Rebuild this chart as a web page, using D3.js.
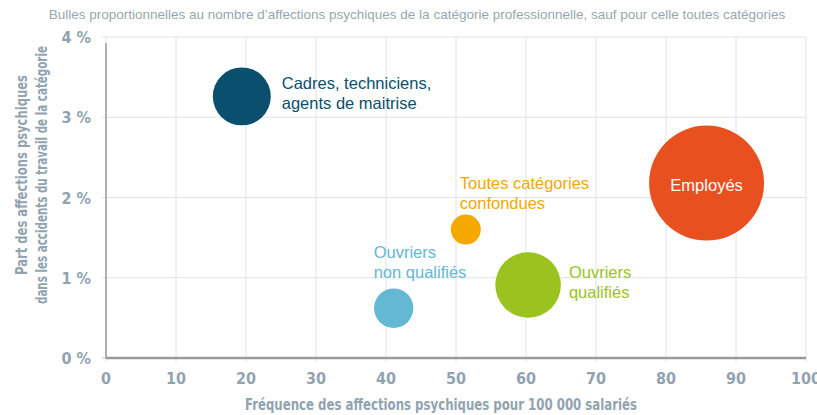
<!DOCTYPE html>
<meta charset="utf-8">
<script src="https://d3js.org/d3.v7.min.js"></script>
<style>
  body { margin: 0; background: #fff; }
  .tick-lab { font-family: "Liberation Sans Narrow", "DejaVu Sans Condensed", "Roboto", sans-serif; font-weight: bold; fill: #91a3af; }
</style>
<div id="my_dataviz"></div>
<script>

// data
var categories = ["Cadres, techniciens, agents de maitrise", "Toutes catégories confondues", "Ouvriers non qualifiés", "Ouvriers qualifiés", "Employés"]
var frequence = [19.4, 51.4, 41.1, 60.3, 85.8]          // pour 100 000 salariés
var part = [3.26, 1.60, 0.62, 0.91, 2.18]               // % des accidents du travail
var nombre = [2540, null, 1170, 3250, 10000]            // taille relative des bulles (aire)
var colors = ["#0a4f6e", "#f5a800", "#64b8d3", "#9bc31f", "#e9501f"]
var labelLines = [["Cadres, techniciens,", "agents de maitrise"], ["Toutes catégories", "confondues"], ["Ouvriers", "non qualifiés"], ["Ouvriers", "qualifiés"], ["Employés"]]
var xTicks = [0, 10, 20, 30, 40, 50, 60, 70, 80, 90, 100]
var yTicks = [0, 1, 2, 3, 4]

var margin = {top: 37, right: 11, bottom: 57, left: 106},
    W = 817, H = 415,
    width = W - margin.left - margin.right,
    height = H - margin.top - margin.bottom

var svg = d3.select("#my_dataviz")
  .append("svg")
    .attr("width", W)
    .attr("height", H)

var g = svg.append("g")
    .attr("transform", "translate(" + margin.left + "," + margin.top + ")")

var x = d3.scaleLinear().domain([0, 100]).range([0, width])
var y = d3.scaleLinear().domain([0, 4]).range([height, 0])
var r = d3.scaleSqrt().domain([0, d3.max(nombre)]).range([0, 57.5])

// grid
g.selectAll("vgrid").data(xTicks).enter().append("line")
  .attr("x1", d => x(d)).attr("x2", d => x(d))
  .attr("y1", 0).attr("y2", height + 4)
  .attr("stroke", "#e2e2e2").attr("stroke-width", 1)
g.selectAll("hgrid").data(yTicks).enter().append("line")
  .attr("x1", -4).attr("x2", width)
  .attr("y1", d => y(d)).attr("y2", d => y(d))
  .attr("stroke", d => d == 0 ? "#bbb" : "#e2e2e2").attr("stroke-width", 1)

// axis lines
g.append("line").attr("x1", 0).attr("x2", 0).attr("y1", 6).attr("y2", height)
  .attr("stroke", "#9a9a9a").attr("stroke-width", 1.5)
g.append("line").attr("x1", 0).attr("x2", width).attr("y1", height).attr("y2", height)
  .attr("stroke", "#9a9a9a").attr("stroke-width", 2.5)

// tick labels
g.selectAll("xlab").data(xTicks).enter().append("text")
  .attr("class", "tick-lab")
  .attr("x", d => x(d)).attr("y", height + 26)
  .attr("text-anchor", "middle")
  .style("font-size", "16px")
  .text(d => d)
g.selectAll("ylab").data(yTicks).enter().append("text")
  .attr("class", "tick-lab")
  .attr("x", -15).attr("y", d => y(d) + 6)
  .attr("text-anchor", "end")
  .style("font-size", "16px")
  .text(d => d + " %")

// axis titles (squeezed to mimic the condensed face)
svg.append("text").attr("class", "tick-lab")
  .attr("x", 245).attr("y", 410)
  .attr("textLength", 392).attr("lengthAdjust", "spacingAndGlyphs")
  .style("font-size", "15px")
  .text("Fréquence des affections psychiques pour 100 000 salariés")

var yt = svg.append("text").attr("class", "tick-lab")
  .attr("transform", "translate(27,175) rotate(-90)")
  .attr("text-anchor", "middle")
  .style("font-size", "15px")
yt.append("tspan").attr("x", 0).attr("y", 0)
  .attr("textLength", 200).attr("lengthAdjust", "spacingAndGlyphs")
  .text("Part des affections psychiques")
yt.append("tspan").attr("x", 0).attr("y", 20)
  .attr("textLength", 258).attr("lengthAdjust", "spacingAndGlyphs")
  .text("dans les accidents du travail de la catégorie")

// subtitle
svg.append("text")
  .attr("x", 417).attr("y", 19)
  .attr("text-anchor", "middle")
  .style("font-family", "'Liberation Sans', Arial, sans-serif")
  .style("font-size", "13.5px")
  .style("fill", "#9aa6ae")
  .text("Bulles proportionnelles au nombre d’affections psychiques de la catégorie professionnelle, sauf pour celle toutes catégories")

// bubbles
var data = categories.map(function(c, i) {
  return {name: c, fx: frequence[i], py: part[i], n: nombre[i], color: colors[i], lines: labelLines[i]}
})
var radius = function(d) { return d.n == null ? 15 : r(d.n) }

g.selectAll("bubbles").data(data).enter().append("circle")
  .attr("cx", d => x(d.fx))
  .attr("cy", d => y(d.py))
  .attr("r", radius)
  .style("fill", d => d.color)

// labels, placed relative to each bubble
var labelPos = [
  {dx: 1, ox: 11, oy: -7},    // right of bubble
  {dx: 0, ox: -6, oy: -41},   // above
  {dx: 0, ox: -20, oy: -50},  // above
  {dx: 1, ox: 8, oy: -7},     // right
  {dx: 0, ox: 0, oy: 8}       // centred, inside
]
data.forEach(function(d, i) {
  var p = labelPos[i]
  var cx = x(d.fx), cy = y(d.py)
  var t = g.append("text")
    .style("font-family", "'Liberation Sans', Arial, sans-serif")
    .style("font-size", "16.5px")
    .style("fill", i == 4 ? "#fff" : d.color)
    .attr("text-anchor", i == 4 ? "middle" : "start")
  var lx = p.dx ? cx + radius(d) + p.ox : cx + p.ox
  d.lines.forEach(function(l, j) {
    t.append("tspan").attr("x", lx).attr("y", cy + p.oy + j * 20).text(l)
  })
})

</script>
